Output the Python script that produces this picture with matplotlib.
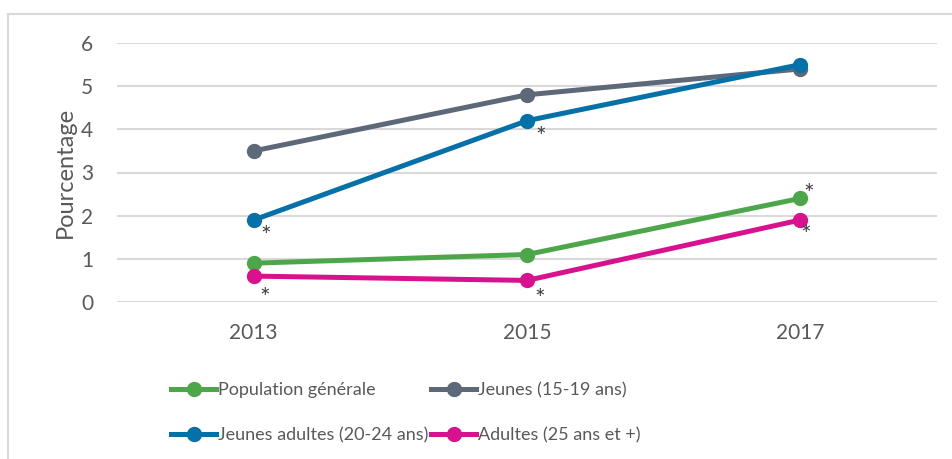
import numpy as np
import matplotlib.pyplot as plt
from matplotlib.lines import Line2D

plt.rcParams['font.family'] = ['Lato', 'DejaVu Sans']

# data
years = ['2013', '2015', '2017']
pop_generale = [0.9, 1.1, 2.4]
jeunes = [3.5, 4.8, 5.4]
jeunes_adultes = [1.9, 4.2, 5.5]
adultes = [0.6, 0.5, 1.9]

labels = ['Population générale', 'Jeunes (15-19 ans)',
          'Jeunes adultes (20-24 ans)', 'Adultes (25 ans et +)']
colors = ['#4EA64A', '#5D6878', '#0670A8', '#D8128E']

# significant differences (series index, year index, offset in points)
stars = [(2, 0, (9, -12)), (2, 1, (10, -12)),
         (3, 0, (8, -16)), (3, 1, (9, -14)), (3, 2, (4, -11)),
         (0, 2, (6, 3))]

txt = '#595959'
grid_c = '#D9D9D9'

fig = plt.figure(figsize=(9.53, 4.59), dpi=100)
ax = fig.add_axes([117/953, 1 - 302/459, 820/953, 259/459])

x = np.arange(len(years))
series = [pop_generale, jeunes, jeunes_adultes, adultes]
for vals, lab, col in zip(series, labels, colors):
    ax.plot(x, vals, color=col, lw=3.6, marker='o', ms=10,
            solid_capstyle='round', label=lab)

for si, yi, off in stars:
    ax.annotate('*', (x[yi], series[si][yi]), xytext=off,
                textcoords='offset points', ha='center', va='center',
                fontsize=18, color='#404040')

ax.set_xlim(-0.5, 2.5)
ax.set_ylim(0, 6)
ax.set_yticks(range(0, 7))
ax.set_xticks(x)
ax.set_xticklabels(years)
ax.tick_params(length=0, labelsize=15, colors=txt, pad=15)
ax.tick_params(axis='y', pad=17)
ax.grid(axis='y', color=grid_c, lw=1.5)
ax.set_axisbelow(True)
for s in ax.spines.values():
    s.set_visible(False)
ax.set_ylabel('Pourcentage', fontsize=17, color=txt, labelpad=4)

# legend fills column by column, so reorder to get rows like the reference
order = [0, 2, 1, 3]
handles = [Line2D([], [], color=colors[i], lw=3.6, marker='o', ms=10) for i in order]
fig.legend(handles, [labels[i] for i in order], ncol=2, loc='upper left',
           bbox_to_anchor=(155/953, 1 - 366/459), frameon=False,
           fontsize=13, labelcolor=txt, handlelength=2.5, handletextpad=0.1,
           columnspacing=0.15, labelspacing=1.6)

# outer chart frame (only top and left visible)
fig.add_artist(Line2D([8.5/953, 8.5/953], [0, 1 - 14/459], color=grid_c, lw=1.5))
fig.add_artist(Line2D([8.5/953, 1], [1 - 14/459, 1 - 14/459], color=grid_c, lw=1.5))

fig.savefig('out.png', dpi=100)
